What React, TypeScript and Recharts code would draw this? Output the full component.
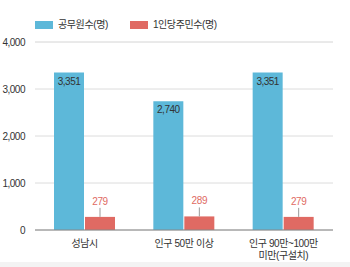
import React from 'react';
import { BarChart, Bar, XAxis, YAxis, CartesianGrid, LabelList } from 'recharts';

const categories = ['성남시', '인구 50만 이상', '인구 90만~100만 미만(구설치)'];
const officials = [3351, 2740, 3351];
const residentsPer = [279, 289, 279];
const yTicks = [0, 1000, 2000, 3000, 4000];
const minorTicks = [0, 500, 1000, 1500, 2000, 2500, 3000, 3500, 4000];
const seriesNames = ['공무원수(명)', '1인당주민수(명)'];

const BLUE = '#5db8d9';
const RED = '#e06a63';
const FONT = '"Liberation Sans", "Noto Sans CJK KR", sans-serif';

const data = categories.map((c, i) => ({ name: c, a: officials[i], b: residentsPer[i] }));

const fmt = (v: number) => v.toLocaleString('en-US');

const XTick = (props: any) => {
  const { x, y, payload } = props;
  const label: string = payload.value;
  let lines = [label];
  if (label.length > 10) {
    const idx = label.indexOf(' 미만');
    lines = [label.slice(0, idx), label.slice(idx + 1)];
  }
  return (
    <g>
      {lines.map((l, i) => (
        <text key={i} x={x} y={y + 9 + i * 12} textAnchor="middle" fontSize={10} fill="#333" fontFamily={FONT} letterSpacing={-0.4}>
          {l}
        </text>
      ))}
    </g>
  );
};

const RedLabel = (props: any) => {
  const { x, y, width, value } = props;
  const cx = x + width / 2;
  return (
    <g>
      <line x1={cx} x2={cx} y1={y} y2={y - 9} stroke="#999" strokeWidth={1} />
      <text x={cx} y={y - 12} textAnchor="middle" fontSize={10} fill={RED} fontFamily={FONT} letterSpacing={-0.4}>
        {fmt(value)}
      </text>
    </g>
  );
};

const BlueLabel = (props: any) => {
  const { x, y, width, value } = props;
  return (
    <text x={x + width / 2} y={y + 12} textAnchor="middle" fontSize={10} fill="#333" fontFamily={FONT} letterSpacing={-0.5}>
      {fmt(value)}
    </text>
  );
};

export default function App() {
  return (
    <div style={{ position: 'absolute', left: 0, top: 0, width: 350, height: 267, background: '#fff' }}>
      <div style={{ position: 'absolute', left: 35, top: 19, display: 'flex', alignItems: 'center', fontFamily: FONT, fontSize: 10, color: '#333', letterSpacing: -0.4, lineHeight: '12px' }}>
        <span style={{ display: 'inline-block', width: 18, height: 8, background: BLUE, marginRight: 5 }} />
        <span style={{ marginRight: 22 }}>{seriesNames[0]}</span>
        <span style={{ display: 'inline-block', width: 18, height: 8, background: RED, marginRight: 5 }} />
        <span>{seriesNames[1]}</span>
      </div>
      <BarChart width={350} height={267} data={data} margin={{ top: 42, right: 17, left: 0, bottom: 7 }} barSize={30} barGap={1}>
        <CartesianGrid vertical={false} stroke="#f0f0f0" yAxisId="minor" />
        <CartesianGrid vertical={false} stroke="#dcdcdc" />
        <XAxis dataKey="name" axisLine={{ stroke: '#888' }} tickLine={false} height={30} tick={<XTick />} interval={0} />
        <YAxis domain={[0, 4000]} ticks={yTicks} width={35} axisLine={false} tickLine={false} tickFormatter={fmt}
          tick={{ fontSize: 10, fill: '#333', fontFamily: FONT, letterSpacing: -0.5 }} tickMargin={4} />
        <YAxis yAxisId="minor" orientation="right" domain={[0, 4000]} ticks={minorTicks} width={0} axisLine={false} tickLine={false} tick={false} />
        <Bar dataKey="a" fill={BLUE} isAnimationActive={false}>
          <LabelList dataKey="a" content={<BlueLabel />} />
        </Bar>
        <Bar dataKey="b" fill={RED} isAnimationActive={false}>
          <LabelList dataKey="b" content={<RedLabel />} />
        </Bar>
      </BarChart>
      <div style={{ position: 'absolute', left: 0, top: 262, width: 350, height: 5, background: '#f3f3f3' }} />
    </div>
  );
}
